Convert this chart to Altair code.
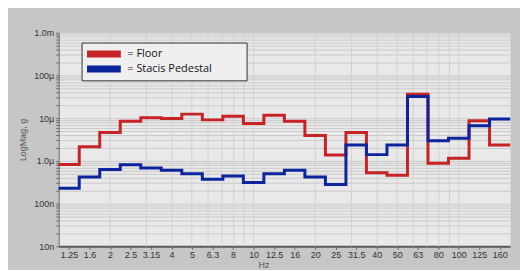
import math
import altair as alt
import pandas as pd

# 1/3-octave band labels (Hz)
bands = ["1.25", "1.6", "2", "2.5", "3.15", "4", "5", "6.3", "8", "10", "12.5",
         "16", "20", "25", "31.5", "40", "50", "63", "80", "100", "125", "160"]
# magnitudes in micro-g
floor_u = [0.82, 2.15, 4.6, 8.5, 10.2, 9.8, 12.4, 9.1, 11.0, 7.5, 11.7,
           8.4, 3.9, 1.38, 4.6, 0.53, 0.46, 36.0, 0.88, 1.15, 8.7, 2.35]
stacis_u = [0.23, 0.42, 0.63, 0.81, 0.68, 0.60, 0.50, 0.37, 0.44, 0.31, 0.50,
            0.60, 0.42, 0.28, 2.35, 1.40, 2.35, 32.0, 2.96, 3.40, 6.6, 9.5]
series = ["Floor", "Stacis Pedestal"]
colors = ["#c62327", "#0c249c"]
decades = [1e-8, 1e-7, 1e-6, 1e-5, 1e-4, 1e-3]
decade_labels = ["10n", "100n", "1.0\u00b5", "10\u00b5", "100\u00b5", "1.0m"]
grid_freqs = [2, 3, 4, 5, 6, 7, 8, 9, 10, 20, 30, 40, 50, 60, 70, 80, 90, 100]

rows = []
for name, vals in zip(series, [floor_u, stacis_u]):
    for i, v in enumerate(vals):
        rows.append({"series": name, "x": i - 0.5, "y": v * 1e-6})
    rows.append({"series": name, "x": len(vals) - 0.5, "y": vals[-1] * 1e-6})
df = pd.DataFrame(rows)

grid_df = pd.DataFrame({"x": [10 * math.log10(f) - 1 for f in grid_freqs]})

yvals = []
for d in decades[:-1]:
    for m in range(1, 10):
        yvals.append(m * d)
yvals.append(decades[-1])

font = "Liberation Sans Narrow, Liberation Sans, sans-serif"

x_label_expr = "[" + ",".join("'%s'" % b for b in bands) + "][datum.value]"
y_label_expr = ("[" + ",".join("'%s'" % l for l in decade_labels) + "][indexof(["
                + ",".join(repr(d) for d in decades) + "], datum.value)] || ''")

xenc = alt.X("x:Q",
             scale=alt.Scale(domain=[-0.5, len(bands) - 0.5], nice=False, zero=False),
             axis=alt.Axis(values=list(range(len(bands))), labelExpr=x_label_expr,
                           title="Hz", grid=False, tickSize=3, labelPadding=1,
                           domainWidth=2, domainColor="#5a5a5a",
                           titleX=206, titleY=18, titleBaseline="middle"))

yenc = alt.Y("y:Q",
             scale=alt.Scale(type="log", domain=[1e-8, 1e-3], nice=False),
             axis=alt.Axis(values=yvals, labelExpr=y_label_expr, title="LogMag, g",
                           grid=True, gridColor="#cbcbcb", tickSize=3, labelPadding=2,
                           domainColor="#6a6a6a", titleX=-31))

pad = "\u00a0" * 10 + "\u200b"
legend = alt.Legend(orient="none", legendX=23, legendY=10, title=None,
                    symbolType="M-2,-1.1667H9.333V1.1667H-2Z", symbolSize=36,
                    symbolStrokeWidth=0, labelOffset=29,
                    labelExpr="'= ' + datum.label + '" + pad + "'",
                    fillColor="#efefef", strokeColor="#333333",
                    padding=6, rowPadding=3,
                    labelFont="Open Sans", labelFontSize=11,
                    labelColor="#111111")

color_scale = alt.Scale(domain=series, range=colors)

vgrid = alt.Chart(grid_df).mark_rule(color="#d2d2d2", strokeWidth=1).encode(x=xenc)

keys = alt.Chart(df).mark_point(filled=True, size=1, opacity=1).encode(
    x=xenc, y=yenc,
    color=alt.Color("series:N", scale=color_scale, legend=legend),
)

lines = alt.Chart(df).mark_line(interpolate="step-after", strokeWidth=3).encode(
    x=xenc,
    y=yenc,
    color=alt.Color("series:N", scale=color_scale, legend=None),
)

chart = (alt.layer(vgrid, keys, lines)
         .properties(width=454, height=215,
                     autosize=alt.AutoSizeParams(type="none"),
                     padding={"left": 51, "top": 24, "right": 10, "bottom": 23},
                     background="#c6c6c6")
         .configure_view(fill="#e9e9e9", stroke="transparent")
         .configure_axis(labelFont=font, labelFontSize=9, labelColor="#333333",
                         titleFont=font, titleFontSize=9, titleColor="#555555",
                         titleFontWeight="normal", tickColor="#6a6a6a"))

chart.save("out.html", embed_options={"renderer": "svg", "actions": False})
